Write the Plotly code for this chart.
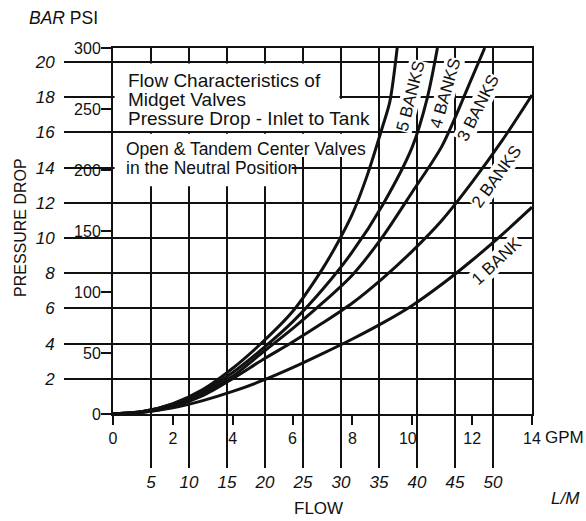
import plotly.graph_objects as go

# ---- data ----
GPM_TICKS = [0, 2, 4, 6, 8, 10, 12, 14]
LM_TICKS = [5, 10, 15, 20, 25, 30, 35, 40, 45, 50]
PSI_TICKS = [0, 50, 100, 150, 200, 250, 300]
BAR_TICKS = [2, 4, 6, 8, 10, 12, 14, 16, 18, 20]

bank1_flow = [0, 1, 2, 3, 4, 5, 6, 7, 8, 9, 10, 11, 12, 13, 14]
bank1_psi = [0, 1.5, 5, 11, 18.5, 27.5, 38, 49.5, 61.5, 74.5, 89, 106.5, 126, 147, 169.5]

bank2_flow = [0, 1, 2, 3, 4, 5, 6, 7, 8, 9, 10, 11, 12, 13, 14]
bank2_psi = [0, 1.5, 6, 15, 29, 44.5, 59, 74.5, 91, 111, 133.5, 159, 190, 224, 261.5]

bank3_flow = [0, 1, 2, 3, 4, 5, 6, 7, 8, 9, 10, 11, 12, 12.42]
bank3_psi = [0, 2, 7.5, 17, 31, 50.5, 70, 91, 114, 145, 182, 220, 276, 300]

bank4_flow = [0, 1, 2, 3, 4, 5, 6, 7, 8, 9, 10, 10.5, 10.84]
bank4_psi = [0, 2, 8, 18.5, 34, 53.5, 75.5, 102, 133, 171, 219, 259, 300]

bank5_flow = [0, 1, 2, 3, 4, 5, 6, 7, 7.5, 8, 8.5, 9, 9.25, 9.5]
bank5_psi = [0, 2, 8.5, 20, 37.5, 59, 84, 119, 140, 164, 196, 235, 256, 301]

series_names = ["1 BANK", "2 BANKS", "3 BANKS", "4 BANKS", "5 BANKS"]
series_flow = [bank1_flow, bank2_flow, bank3_flow, bank4_flow, bank5_flow]
series_psi = [bank1_psi, bank2_psi, bank3_psi, bank4_psi, bank5_psi]

# scales as printed on the chart
GPM_MAX = 14
PSI_MAX = 300
LM_MAX = 55.13      # L/M scale as drawn against 14 GPM
BAR_MAX = 20.8      # bar scale as drawn against 300 PSI

# ---- styling / placement ----
FONT = "Liberation Sans, Arial, sans-serif"
INK = "#111111"
W, H = 586, 521
ML, MR, MT, MB = 113, 54, 48, 107
NBSP = "\u00a0"
gpm_label_pad = {10: 2}   # nudge the crowded label left of its tick
gpm_ticktext = [str(v) + NBSP * gpm_label_pad.get(v, 0) for v in GPM_TICKS]

label_pos = {  # (x GPM, y PSI, angle)
    "5 BANKS": (9.96, 260.7, -76),
    "4 BANKS": (11.09, 263.1, -74),
    "3 BANKS": (12.18, 250.8, -63),
    "2 BANKS": (12.83, 194.3, -54),
    "1 BANK": (12.80, 125.4, -43),
}

fig = go.Figure()

for name, fx, py in zip(series_names, series_flow, series_psi):
    fig.add_trace(go.Scatter(
        x=fx, y=py, mode="lines", name=name,
        line=dict(color=INK, width=3, shape="spline", smoothing=0.8),
        showlegend=False, hoverinfo="skip",
        xaxis="x", yaxis="y",
    ))

# dummy trace to activate overlay axes
fig.add_trace(go.Scatter(x=[None], y=[None], xaxis="x2", yaxis="y2", showlegend=False))

axis_common = dict(zeroline=False, automargin=False,
                   tickcolor=INK, tickwidth=2, fixedrange=True)

fig.update_layout(
    width=W, height=H,
    margin=dict(l=ML, r=MR, t=MT, b=MB, autoexpand=False),
    paper_bgcolor="white", plot_bgcolor="white",
    template="none",
    font=dict(family=FONT, color=INK, size=16),
    xaxis=dict(**axis_common, range=[0, GPM_MAX], tickvals=GPM_TICKS,
               ticktext=gpm_ticktext,
               ticks="outside", ticklen=9, showgrid=False,
               showline=True, linecolor=INK, linewidth=2, mirror=True,
               tickfont=dict(family=FONT, size=16, color=INK),
               ticklabelstandoff=0),
    xaxis2=dict(**axis_common, range=[0, LM_MAX], tickvals=LM_TICKS,
                overlaying="x", anchor="y", side="bottom", showline=False,
                ticks="outside", ticklen=53, showgrid=True,
                gridcolor=INK, gridwidth=2,
                tickfont=dict(family=FONT, size=17, color=INK, style="italic"),
                ticklabelstandoff=0),
    yaxis=dict(**axis_common, range=[0, PSI_MAX], tickvals=PSI_TICKS,
               ticks="outside", ticklen=10, showgrid=False,
               showline=True, linecolor=INK, linewidth=2, mirror=True,
               tickfont=dict(family=FONT, size=16, color=INK),
               ticklabelstandoff=-3),
    yaxis2=dict(**axis_common, range=[0, BAR_MAX], tickvals=BAR_TICKS,
                overlaying="y", anchor="x", side="left", showline=False,
                ticks="outside", ticklen=48, showgrid=True,
                gridcolor=INK, gridwidth=2,
                tickfont=dict(family=FONT, size=17, color=INK, style="italic"),
                ticklabelstandoff=6),
)

# white panels behind the caption text (hide grid, sit under curves)
LM2GPM = GPM_MAX / LM_MAX
BAR2PSI = PSI_MAX / BAR_MAX
masks = [  # x0,x1 in L/M ; y0,y1 in bar
    (0.2, 29.8, 16.08, 19.92),
    (29.5, 34.0, 16.08, 17.92),
    (0.2, 34.0, 14.6, 15.92),
    (0.2, 23.5, 12.95, 14.6),
]
for x0, x1, y0, y1 in masks:
    fig.add_shape(type="rect", xref="x", yref="y",
                  x0=x0 * LM2GPM, x1=x1 * LM2GPM, y0=y0 * BAR2PSI, y1=y1 * BAR2PSI,
                  fillcolor="white", line=dict(width=0), layer="between")

def px_x(px):
    return (px - ML) / (W - ML - MR)

def px_y(py):
    return (H - MB - py) / (H - MB - MT)

caption = [
    ("Flow Characteristics of", 126, 80, 19),
    ("Midget Valves", 126, 99, 19),
    ("Pressure Drop - Inlet to Tank", 126, 118, 19),
    ("Open & Tandem Center Valves", 124, 149, 17.5),
    ("in the Neutral Position", 124, 168, 17.5),
]
for txt, cx, cy, fs in caption:
    fig.add_annotation(text=txt, xref="paper", yref="paper", x=px_x(cx), y=px_y(cy),
                       xanchor="left", yanchor="middle", showarrow=False,
                       font=dict(family=FONT, size=fs, color=INK))

for name, (gx, gp, ang) in label_pos.items():
    fig.add_annotation(text=name, xref="x", yref="y", x=gx, y=gp, textangle=ang,
                       xanchor="center", yanchor="middle",
                       showarrow=False, bgcolor="white", borderpad=0,
                       font=dict(family=FONT, size=17, color=INK))

def label(text, cx, cy, size, angle=0, xanchor="center"):
    fig.add_annotation(text=text, xref="paper", yref="paper",
                       x=px_x(cx), y=px_y(cy), xanchor=xanchor, yanchor="middle",
                       textangle=angle, showarrow=False,
                       font=dict(family=FONT, size=size, color=INK))

label("<i>BAR</i> PSI", 27, 18, 17.5, xanchor="left")
label("PRESSURE DROP", 20, 228, 16, angle=-90)
label("GPM", 564, 437, 17)
label("<i>L/M</i>", 565, 498, 17)
label("FLOW", 318, 508, 17)

fig.write_html(
    "out.html",
    config={"displayModeBar": False},
    post_script="document.body.style.margin='0';document.body.style.overflow='hidden';",
)
